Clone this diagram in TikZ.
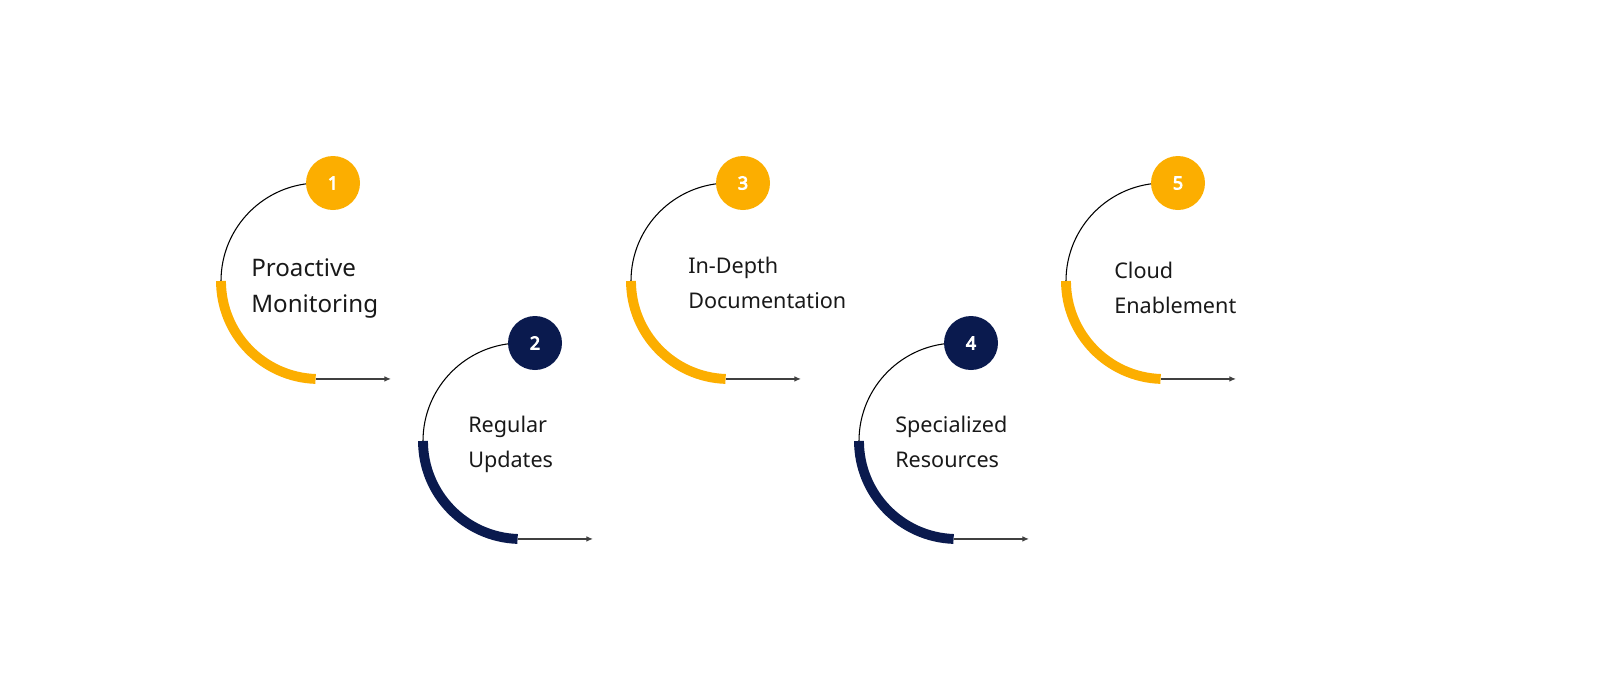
\documentclass[tikz,border=0pt]{standalone}
\usepackage{fontspec}
\setmainfont{Noto Sans}
\newfontfamily\badgefont{Noto Sans}[FakeBold=4.5]
\usetikzlibrary{arrows.meta}
\definecolor{gold}{RGB}{252,174,0}
\definecolor{navy}{RGB}{10,26,78}

\begin{document}
\begin{tikzpicture}[x=0.75pt,y=-0.75pt,
    badge/.style={circle,fill=#1,minimum size=40.5pt,inner sep=0pt,text=white,
      font=\badgefont\fontsize{13.5}{15}\selectfont},
    steptext/.style={anchor=base west,align=left,inner sep=0pt,text=black!90},
    thinarc/.style={black,line width=0.8pt},
    thickarc/.style={#1,line width=7.4pt},
    pointer/.style={black!75,line width=0.9pt,-{Latex[length=5pt,width=4.2pt]}}]
  \useasboundingbox (0,0) rectangle (1600,686);
  \def\rad{98}
  % one step: arc, badge, pointer and text
  \foreach \n/\cx/\cy/\col/\tx/\ty/\fs/\bs/\la/\lb in {
      1/333/183/gold/251/312/18.1/27/Proactive/Monitoring,
      2/535/343/navy/468/467/16.2/26/Regular/Updates,
      3/743/183/gold/688/308/16.2/26/In-Depth/Documentation,
      4/971/343/navy/895/467/16.2/26/Specialized/Resources,
      5/1178/183/gold/1114/313/16.2/26/Cloud/Enablement}
  {
    \coordinate (s\n) at (\cx-14-\rad,\cy+\rad);
    \coordinate (e\n) at ({\cx-14+\rad*cos(92)},{\cy+\rad+\rad*sin(92)});
    \coordinate (t\n) at ({\cx+58},{\cy+\rad+\rad*sin(92)});
    \draw [thinarc] (s\n) arc [start angle=180, end angle=270, radius=\rad];
    \draw [thickarc=\col] (s\n) arc [start angle=180, end angle=92, radius=\rad];
    \draw [pointer] (e\n) -- (t\n);
    \node [badge=\col] (b\n) at (\cx,\cy) {\n};
    \node [steptext,font=\fontsize{\fs}{\bs}\selectfont] (l\n) at (\tx,\ty) {\la\\\lb};
  }
\end{tikzpicture}
\end{document}
